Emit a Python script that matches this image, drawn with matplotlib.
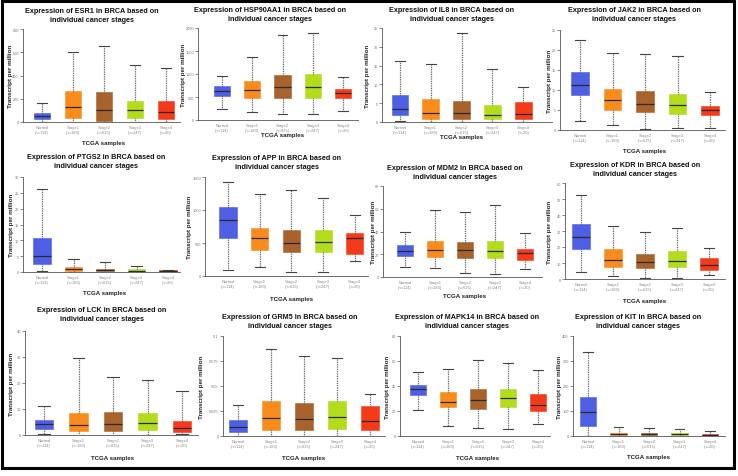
import matplotlib
matplotlib.use('Agg')
import matplotlib.pyplot as plt
from matplotlib.patches import Rectangle

W, H = 738, 477
plt.rcParams['font.family'] = ['Liberation Sans', 'DejaVu Sans']

# ---------------- data ----------------
categories = ['Normal\n(n=114)', 'Stage1\n(n=183)', 'Stage2\n(n=615)',
              'Stage3\n(n=247)', 'Stage4\n(n=20)']
colors = ['#4f5fe3', '#f98c1c', '#a8622b', '#b3dc1c', '#f53a1a']

genes = ['ESR1', 'HSP90AA1', 'IL8', 'JAK2', 'PTGS2', 'APP',
         'MDM2', 'KDR', 'LCK', 'GRM5', 'MAPK14', 'KIT']

ESR1 = dict(low=[2, 0, 0, 0, 0], q1=[25, 35, 5, 35, 30], med=[50, 130, 100, 105, 90],
            q3=[75, 270, 255, 180, 180], high=[165, 605, 655, 490, 465])
HSP90AA1 = dict(low=[235, 180, 130, 130, 200], q1=[520, 470, 480, 470, 470],
                med=[625, 650, 710, 710, 580], q3=[740, 850, 980, 1010, 670],
                high=[965, 1380, 1840, 1890, 930])
IL8 = dict(low=[0.2, 0, 0, 0, 0], q1=[1.8, 0.9, 0.9, 0.8, 0.9], med=[3.5, 2.4, 2.4, 1.9, 2.1],
           q3=[7.2, 6.0, 5.6, 4.5, 5.2], high=[16.2, 15.3, 23.6, 14.0, 9.4])
JAK2 = dict(low=[2.3, 1.2, 0.2, 0.5, 0.5], q1=[8.7, 5.0, 4.4, 4.1, 3.7],
            med=[11.3, 7.5, 6.6, 6.3, 4.9], q3=[14.4, 10.3, 9.7, 9.1, 6.1],
            high=[22.4, 19.3, 18.9, 18.4, 9.6])
PTGS2 = dict(low=[0.3, 0, 0, 0, 0], q1=[2.5, 0.3, 0.2, 0.15, 0.1], med=[5.1, 0.8, 0.5, 0.4, 0.25],
             q3=[10.8, 1.5, 1.0, 0.8, 0.5], high=[26.3, 4.1, 3.1, 2.0, 0.6])
APP = dict(low=[95, 135, 65, 65, 225], q1=[575, 400, 370, 365, 340],
           med=[850, 575, 505, 515, 570], q3=[1050, 720, 690, 690, 650],
           high=[1430, 1240, 1300, 1180, 920])
MDM2 = dict(low=[9, 7.5, 3.5, 2.5, 7], q1=[18.5, 18, 17, 16.5, 15], med=[23, 24, 23.5, 23, 21],
            q3=[28, 32, 31, 31.5, 25], high=[40, 59, 57.5, 63.5, 39])
KDR = dict(low=[4.3, 1.7, 0.5, 0.8, 2.3], q1=[19, 7.5, 6.8, 7.3, 5.7], med=[26.5, 12, 10.5, 11.4, 8.7],
           q3=[34.5, 18.5, 15.8, 17.3, 13.3], high=[52.5, 33, 29.6, 31.8, 19.3])
LCK = dict(low=[0.3, 0.1, 0.1, 0.1, 0.2], q1=[2.3, 1.5, 1.7, 2.0, 1.2], med=[4.3, 3.9, 4.3, 4.7, 2.6],
           q3=[5.9, 8.5, 9.0, 8.5, 5.2], high=[11, 29.5, 22.5, 21.3, 17])
GRM5 = dict(low=[0, 0, 0, 0, 0], q1=[0.004, 0.006, 0.006, 0.007, 0.006],
            med=[0.009, 0.018, 0.017, 0.019, 0.015], q3=[0.016, 0.035, 0.033, 0.035, 0.0297],
            high=[0.031, 0.087, 0.080, 0.078, 0.042])
MAPK14 = dict(low=[20.5, 8, 6.5, 5.5, 10], q1=[33, 23, 22, 23.5, 20], med=[37.5, 27.5, 29, 30.5, 25],
              q3=[41, 35, 37.5, 37.5, 33.5], high=[51.5, 53.5, 60.5, 58.5, 52.5])
KIT = dict(low=[2, 0, 0, 0, 0], q1=[40, 4, 3, 3, 3], med=[95, 8, 7, 7, 6],
           q3=[155, 13, 12, 12, 10], high=[337, 35, 31, 29, 22])

yticks = {
    'ESR1': [0, 200, 400, 600, 800], 'HSP90AA1': [0, 500, 1000, 1500, 2000],
    'IL8': [0, 5, 10, 15, 20, 25], 'JAK2': [0, 5, 10, 15, 20, 25],
    'PTGS2': [0, 5, 10, 15, 20, 25, 30], 'APP': [0, 500, 1000, 1500],
    'MDM2': [0, 20, 40, 60, 80], 'KDR': [0, 10, 20, 30, 40, 50, 60],
    'LCK': [0, 10, 20, 30, 40], 'GRM5': [0, 0.025, 0.05, 0.075, 0.1],
    'MAPK14': [0, 20, 40, 60, 80], 'KIT': [0, 100, 200, 300, 400],
}
data = {'ESR1': ESR1, 'HSP90AA1': HSP90AA1, 'IL8': IL8, 'JAK2': JAK2, 'PTGS2': PTGS2,
        'APP': APP, 'MDM2': MDM2, 'KDR': KDR, 'LCK': LCK, 'GRM5': GRM5,
        'MAPK14': MAPK14, 'KIT': KIT}

# ---------------- layout (pixels) ----------------
# x0, x1, ytop, ybot, first box centre, spacing, title x, title y, ylabel x, xlabel y
layout = {
    'ESR1':     (23, 180, 30, 123, 42, 31.0, 92, 11, 11, 143),
    'HSP90AA1': (198, 358, 29, 121, 222, 30.3, 270, 10, 183, 136),
    'IL8':      (382, 552, 29, 123, 400, 30.8, 452, 10, 367, 138),
    'JAK2':     (560, 725, 31, 131, 580, 32.5, 634, 10, 549, 152),
    'PTGS2':    (23, 180, 178, 273, 42, 31.5, 96, 157, 12, 294),
    'APP':      (205, 368, 178, 277, 228, 31.7, 277, 158, 190, 299),
    'MDM2':     (383, 542, 187, 278, 405, 30.0, 455, 168, 373, 297),
    'KDR':      (565, 725, 184, 280, 581, 32.0, 635, 165, 550, 301),
    'LCK':      (25, 198, 332, 436, 44, 34.5, 102, 310, 12, 459),
    'GRM5':     (223, 385, 337, 437, 238, 33.0, 290, 317, 202, 459),
    'MAPK14':   (400, 550, 337, 437, 418, 30.0, 467, 317, 388, 459),
    'KIT':      (573, 725, 337, 437, 588, 30.5, 638, 317, 559, 458),
}

fig = plt.figure(figsize=(W / 100, H / 100), dpi=100)
fig.patch.set_facecolor('white')


def fx(x):
    return x / W


def fy(y):
    return 1 - y / H


for g in genes:
    x0, x1, yt, yb, c0, sp, tx, ty, ylx, xly = layout[g]
    d = data[g]
    ax = fig.add_axes([fx(x0), fy(yb), (x1 - x0) / W, (yb - yt) / H])
    stats = []
    for i in range(5):
        stats.append(dict(med=d['med'][i], q1=d['q1'][i], q3=d['q3'][i],
                          whislo=d['low'][i], whishi=d['high'][i], fliers=[]))
    bp = ax.bxp(stats, positions=list(range(5)), widths=0.54, patch_artist=True,
                showfliers=False, capwidths=0.32,
                boxprops=dict(linewidth=0.4),
                medianprops=dict(color='#2a2a2a', linewidth=0.9),
                whiskerprops=dict(color='#555555', linewidth=0.9, linestyle=(0, (0.7, 0.7))),
                capprops=dict(color='#444444', linewidth=0.8))
    for patch, c in zip(bp['boxes'], colors):
        patch.set_facecolor(c)
        patch.set_edgecolor(c)
    ymax = yticks[g][-1]
    ax.set_ylim(0, ymax)
    ax.set_xlim((x0 - c0) / sp, (x1 - c0) / sp)
    ax.set_yticks(yticks[g])
    ax.set_yticklabels(['{:g}'.format(v) for v in yticks[g]])
    ax.set_xticks(range(5))
    ax.set_xticklabels(categories, linespacing=1.1)
    for s in ['top', 'right']:
        ax.spines[s].set_visible(False)
    for s in ['left', 'bottom']:
        ax.spines[s].set_color('#555555')
        ax.spines[s].set_linewidth(0.6)
    ax.tick_params(axis='y', length=2, width=0.5, color='#555555', labelsize=2.8,
                   labelcolor='#777777', pad=1.0)
    ax.tick_params(axis='x', length=0, labelsize=3.0, labelcolor='#888888', pad=2.5)
    ax.set_facecolor('none')
    fig.text(fx(tx), fy(ty + 5), 'Expression of %s in BRCA based on\nindividual cancer stages' % g,
             ha='center', va='center', fontsize=5.2, fontweight='bold', linespacing=1.35,
             color='#111111')
    fig.text(fx(ylx), fy((yt + yb) / 2), 'Transcript per million', rotation=90,
             ha='center', va='center', fontsize=4.5, fontweight='bold', color='#222222')
    fig.text(fx(c0 + 2 * sp), fy(xly), 'TCGA samples', ha='center', va='center',
             fontsize=4.4, fontweight='bold', color='#222222')

fig.patches.append(Rectangle((fx(1.5), fy(469)), (734 - 1.5) / W, (469 - 1.5) / H,
                             transform=fig.transFigure, fill=False, edgecolor='black',
                             linewidth=2.2))

fig.savefig('out.png', dpi=100)
